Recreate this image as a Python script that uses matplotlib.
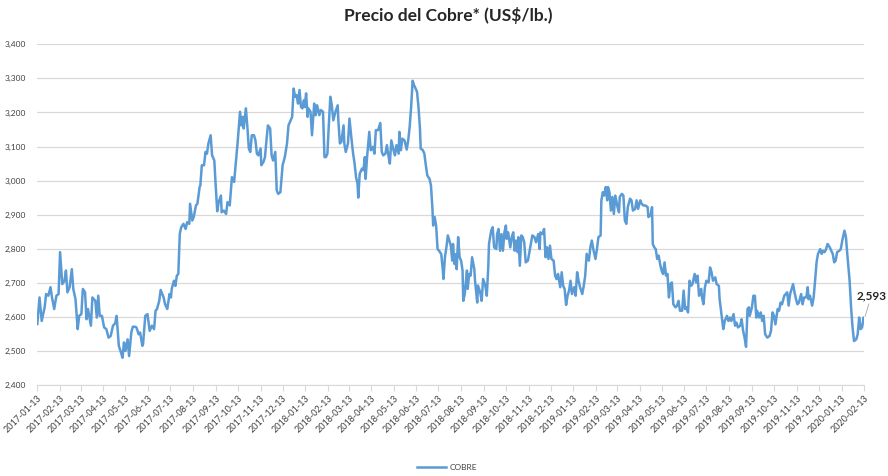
import pandas as pd
import numpy as np
import matplotlib
matplotlib.use("Agg")
import matplotlib.pyplot as plt

# Precio del cobre (US$/lb, x1000), leido del grafico
# dias = dias transcurridos desde 2017-01-13
INICIO = pd.Timestamp("2017-01-13")

dias = [
    0, 3, 6, 10, 12, 15, 18, 20, 23, 26, 29, 31, 34, 37, 39, 41, 44, 47, 49, 52,
    55, 57, 60, 62, 65, 67, 69, 73, 75, 79, 81, 83, 85, 88, 91, 94, 97, 100, 103, 106,
    108, 111, 114, 116, 118, 120, 123, 125, 128, 130, 133, 135, 138, 140, 143, 144, 147, 150,
    153, 156, 159, 161, 163, 166, 168, 172, 174, 177, 180, 182, 183, 186, 188, 190, 192, 194,
    196, 199, 202, 204, 207, 208, 211, 213, 216, 218, 221, 222, 224, 227, 229, 231, 233, 236,
    238, 241, 243, 245, 247, 250, 251, 254, 257, 259, 262, 265, 268, 271, 273, 276, 278, 280,
    281, 284, 286, 288, 290, 292, 295, 297, 299, 301, 304, 305, 308, 310, 312, 314,
    317, 319, 321, 324, 326, 328, 331, 334, 337, 340, 342, 345, 347, 349, 351, 353, 355, 357,
    359, 361, 363, 364, 366, 368, 369, 372, 374, 377, 379, 381, 384, 386, 389, 391, 393, 395,
    397, 399, 401, 403, 406, 409, 410, 412, 414, 417, 418, 420, 423, 425, 428, 430, 432, 434,
    436, 437, 439, 442, 444, 446, 447, 449, 452, 454, 457, 459, 461, 464, 467, 469, 471, 474,
    476, 478,
    480, 482, 485, 487, 489, 492, 493, 495, 497, 500, 503, 505, 507, 509, 511, 513, 516, 517,
    519, 521, 522, 525, 527, 529, 531, 534, 536, 538, 539, 541, 543, 545, 547, 550, 552, 553,
    555, 557, 559, 561, 563, 565, 566, 568, 570, 571, 573, 575, 577, 579, 580, 582, 585, 586,
    588, 590, 592, 595, 596, 599, 600, 603, 605, 607, 610, 612, 614, 615, 618, 620, 622, 625,
    626, 628, 630, 632, 634, 636, 638, 639, 641,
    644, 646, 648, 650, 652, 654, 655, 657, 659, 661, 663, 665, 668, 670, 672, 674, 677, 679,
    682, 684, 685, 688, 690, 692, 694, 696, 698, 700, 703, 705, 707, 709, 712, 714, 716, 718,
    720, 722, 724, 726, 728, 731, 733, 735, 737, 739, 742, 744, 746, 748, 751, 753, 755, 757,
    760, 762, 764, 767, 768, 770, 772, 774, 776, 777, 779, 781, 783, 785, 787, 790, 792, 793,
    796, 798, 800, 802, 804,
    807, 809, 811, 814, 816, 818, 821, 823, 825, 828, 831, 832, 835, 837, 838, 840, 842, 844,
    846, 848, 850, 852, 854, 856, 858, 860, 862, 864, 866, 869, 871, 873, 875, 878, 880, 882,
    884, 886, 888, 890, 892, 895, 897, 899, 901, 904, 905, 907, 909, 911, 914, 916, 918, 920,
    923, 925, 928, 929, 932, 934, 936, 939, 941, 943, 945, 948, 950, 952, 954, 957, 959, 961,
    963, 965, 967, 969,
    970, 973, 975, 977, 979, 980, 983, 985, 987, 989, 991, 994, 997, 999, 1001, 1003, 1005, 1008,
    1010, 1012, 1014, 1017, 1019, 1021, 1023, 1025, 1027, 1029, 1031, 1033, 1035, 1037, 1040, 1042,
    1044, 1047, 1049, 1050, 1052, 1055, 1057, 1059, 1061, 1063, 1066, 1068, 1070, 1072, 1074, 1076,
    1079, 1081, 1083, 1085, 1087, 1089, 1092, 1094, 1096, 1099, 1101, 1103, 1106, 1108, 1110, 1112,
    1115, 1117, 1119, 1121, 1123, 1125, 1126,
]

cobre = [
    2579, 2657, 2588, 2628, 2667, 2662, 2687, 2657, 2623, 2662, 2667, 2790, 2696, 2706, 2736, 2672, 2687, 2740, 2682, 2652,
    2564, 2603, 2608, 2682, 2672, 2593, 2623, 2574, 2657, 2647, 2598, 2662, 2603, 2603, 2569, 2564, 2539, 2544, 2574, 2581,
    2603, 2515, 2495, 2480, 2525, 2500, 2534, 2485, 2554, 2571, 2571, 2569, 2549, 2554, 2515, 2520, 2603, 2608,
    2559, 2574, 2564, 2618, 2623, 2647, 2679, 2657, 2637, 2623, 2667, 2657, 2682, 2706, 2691, 2721, 2726, 2844,
    2863, 2873, 2858, 2878, 2873, 2932, 2883, 2893, 2927, 2932, 2981, 2986, 3045, 3045, 3084, 3079, 3109, 3133,
    3074, 3059, 2981, 2910, 2937, 2956, 2907, 2912, 2902, 2937, 2927, 3010, 2996, 3069, 3118, 3202, 3162, 3187,
    3153, 3212, 3158, 3094, 3084, 3133, 3133, 3118, 3079, 3074, 3094, 3045, 3055, 3069, 3118, 3162,
    3153, 3074, 3059, 3084, 2971, 2961, 2966, 3045, 3069, 3109, 3162, 3177, 3187, 3270, 3246, 3251, 3226, 3266,
    3216, 3212, 3236, 3216, 3256, 3187, 3212, 3202, 3133, 3226, 3192, 3221, 3192, 3207, 3202, 3069, 3069, 3079,
    3167, 3246, 3221, 3177, 3202, 3221, 3172, 3109, 3114, 3162, 3109, 3084, 3109, 3182, 3118, 3079, 3050, 3010,
    2991, 2950, 3020, 3035, 3030, 3069, 3005, 3069, 3143, 3089, 3099, 3079, 3148, 3148, 3169, 3084, 3074, 3079,
    3104, 3074,
    3050, 3118, 3089, 3074, 3104, 3079, 3143, 3089, 3123, 3118, 3091, 3118, 3158, 3216, 3293, 3280, 3266, 3261,
    3216, 3153, 3094, 3089, 3079, 3045, 3015, 3005, 2986, 2917, 2868, 2893, 2868, 2799, 2794, 2784, 2740, 2711,
    2775, 2804, 2839, 2824, 2809, 2765, 2814, 2755, 2784, 2740, 2834, 2775, 2765, 2736, 2647, 2667, 2736, 2682,
    2726, 2721, 2775, 2740, 2706, 2642, 2692, 2672, 2647, 2711, 2692, 2662, 2745, 2814, 2853, 2863, 2804, 2799,
    2843, 2858, 2794, 2843, 2794, 2848, 2868, 2829, 2848,
    2804, 2834, 2848, 2794, 2824, 2790, 2834, 2750, 2839, 2834, 2819, 2760, 2765, 2790, 2814, 2839, 2834, 2819,
    2843, 2799, 2848, 2843, 2858, 2775, 2804, 2770, 2809, 2770, 2765, 2721, 2711, 2726, 2687, 2731, 2691, 2682,
    2635, 2662, 2677, 2706, 2667, 2687, 2662, 2731, 2706, 2687, 2667, 2691, 2721, 2785, 2765, 2804, 2824, 2799,
    2770, 2799, 2834, 2839, 2942, 2966, 2956, 2981, 2942, 2981, 2966, 2912, 2952, 2902, 2956, 2922, 2907, 2952,
    2961, 2956, 2883, 2873, 2922,
    2947, 2942, 2912, 2917, 2942, 2917, 2942, 2932, 2927, 2927, 2922, 2893, 2898, 2922, 2814, 2804, 2799, 2770,
    2780, 2755, 2736, 2726, 2760, 2721, 2726, 2657, 2696, 2701, 2637, 2628, 2633, 2647, 2618, 2618, 2677, 2623,
    2628, 2613, 2706, 2691, 2696, 2726, 2701, 2721, 2662, 2682, 2657, 2637, 2687, 2706, 2701, 2745, 2731, 2706,
    2716, 2696, 2691, 2652, 2598, 2564, 2588, 2603, 2588, 2598, 2588, 2608, 2574, 2583, 2569, 2574, 2593, 2559,
    2539, 2512, 2623, 2628,
    2603, 2628, 2662, 2662, 2598, 2618, 2598, 2613, 2588, 2603, 2549, 2539, 2544, 2559, 2613, 2603, 2578, 2623,
    2618, 2642, 2637, 2662, 2667, 2672, 2633, 2667, 2682, 2696, 2672, 2652, 2637, 2642, 2667, 2637, 2657, 2657,
    2687, 2652, 2662, 2633, 2657, 2706, 2760, 2785, 2799, 2785, 2794, 2790, 2799, 2814, 2804, 2794, 2785, 2760,
    2765, 2790, 2794, 2799, 2824, 2853, 2834, 2780, 2706, 2628, 2569, 2529, 2534, 2549, 2598, 2564, 2569, 2598,
    2593,
]

y_ticks = list(range(2400, 3401, 100))
fechas_ticks = pd.date_range("2017-01-13", "2020-02-13", freq=pd.DateOffset(months=1))

fechas = INICIO + pd.to_timedelta(dias, unit="D")

plt.rcParams['font.family'] = ['Lato', 'DejaVu Sans']

W, H = 888, 476
fig = plt.figure(figsize=(W / 100, H / 100), dpi=100)
ax = fig.add_axes([37.3 / W, 1 - 385 / H, 827 / W, (385 - 44.3) / H])

ax.plot(fechas, cobre, color='#5b9bd5', lw=1.8, label='COBRE', solid_joinstyle='round')

ax.set_xlim(fechas_ticks[0], fechas_ticks[-1])
ax.set_ylim(2400, 3400)
ax.set_yticks(y_ticks)
ax.set_yticklabels([f"{v:,}" for v in y_ticks])
ax.set_xticks(fechas_ticks)
ax.set_xticklabels([d.strftime('%Y-%m-%d') for d in fechas_ticks], rotation=45,
                   ha='right', va='top', rotation_mode='anchor')

ax.grid(axis='y', color='#d9d9d9', lw=0.9)
ax.set_axisbelow(True)
for s in ['top', 'right', 'left']:
    ax.spines[s].set_visible(False)
ax.spines['bottom'].set_color('#d9d9d9')
ax.tick_params(axis='y', length=0, pad=8, labelsize=6, labelcolor='#404040')
ax.tick_params(axis='x', length=4, color='#d9d9d9', pad=2, labelsize=6.5, labelcolor='#404040')

# ultimo valor
ax.annotate(f"{cobre[-1]:,}", xy=(fechas[-1], cobre[-1]), xytext=(5, 13),
            textcoords='offset points', fontsize=8.5, fontweight='bold', color='#262626',
            ha='center', va='bottom',
            arrowprops=dict(arrowstyle='-', color='#a6a6a6', lw=0.6, shrinkA=0, shrinkB=2),
            annotation_clip=False)

fig.text(0.505, 1 - 15 / H, "Precio del Cobre* (US\\$/lb.)", ha='center', va='center',
         fontsize=12.5, fontweight='bold', color='#262626')

fig.legend(loc='center', bbox_to_anchor=(447 / W, 1 - 467 / H), frameon=False,
           fontsize=6, handlelength=3.5, handletextpad=0.4, labelcolor='#404040')

fig.savefig('out.png', dpi=100)
